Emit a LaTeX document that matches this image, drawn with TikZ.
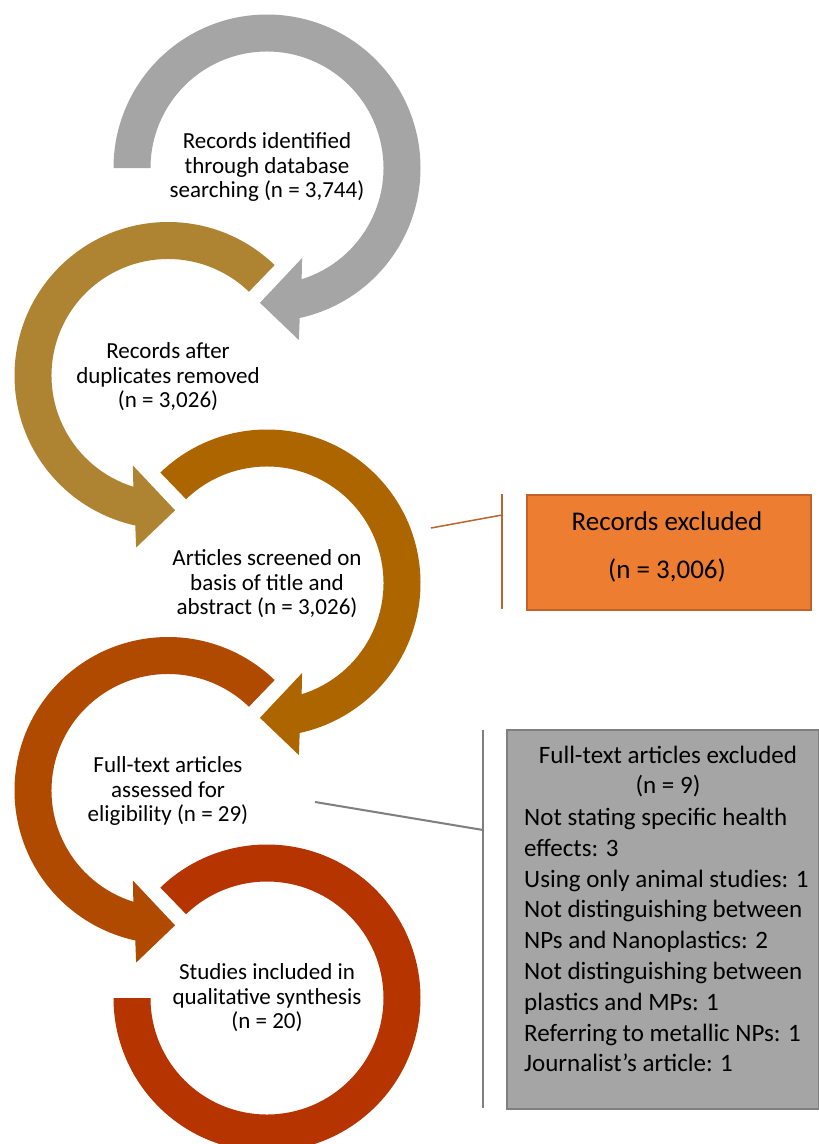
\documentclass[tikz,border=0pt]{standalone}
\usepackage{fontspec}
\setmainfont{Carlito}
\definecolor{cA}{HTML}{A5A5A5}
\definecolor{cB}{HTML}{AE8332}
\definecolor{cC}{HTML}{AD6500}
\definecolor{cD}{HTML}{B04A00}
\definecolor{cE}{HTML}{B53400}
\definecolor{orbox}{HTML}{ED7D31}
\definecolor{orline}{HTML}{B8652E}
\definecolor{orborder}{HTML}{C0622A}
\definecolor{gybox}{HTML}{A5A5A5}
\definecolor{gyline}{HTML}{7F7F7F}
% clockwise circular arrow: x, y, colour, start angle
\newcommand{\cwarrow}[4]{%
  \begin{scope}[shift={(#1,#2)}]
    \fill[#3] (#4:153.5pt) arc[start angle=#4, end angle=-77.7, radius=153.5pt]
      -- (-79.5:175pt) -- (-93:135pt) -- (-68.7:96.6pt) -- (-72.7:116.5pt)
      arc[start angle=-72.7, end angle=#4, radius=116.5pt] -- cycle;
  \end{scope}}
% counter-clockwise circular arrow
\newcommand{\ccwarrow}[4]{%
  \begin{scope}[shift={(#1,#2)}]
    \fill[#3] (#4:153.5pt) arc[start angle=#4, end angle=257.7, radius=153.5pt]
      -- (259.5:175pt) -- (273:135pt) -- (248.7:96.6pt) -- (252.7:116.5pt)
      arc[start angle=252.7, end angle=#4, radius=116.5pt] -- cycle;
  \end{scope}}
\begin{document}
\begin{tikzpicture}[x=1pt,y=1pt,
  ctext/.style={align=center, inner sep=0pt, font=\fontsize{23}{24.5}\selectfont},
  gtext/.style={inner sep=0pt, font=\fontsize{25}{30}\selectfont},
  otext/.style={inner sep=0pt, font=\fontsize{27}{30}\selectfont}]
\useasboundingbox (0,0) rectangle (819,-1144);
\fill[white] (0,0) rectangle (819,-1144);

% circular arrows
\cwarrow{267}{-168}{cA}{180}
\ccwarrow{168}{-375.5}{cB}{46}
\cwarrow{267}{-583}{cC}{134}
\ccwarrow{168}{-790.5}{cD}{46}
\begin{scope}[shift={(267,-998)}]
  \fill[cE] (134:153.5pt) arc[start angle=134, end angle=-180, radius=153.5pt]
    -- (180:116.5pt) arc[start angle=-180, end angle=134, radius=116.5pt] -- cycle;
\end{scope}

% circle texts
\node[ctext] (t1) at (267,-167) {Records identified\\through database\\searching (n = 3,744)};
\node[ctext] (t2) at (168,-377) {Records after\\duplicates removed\\(n = 3,026)};
\node[ctext] (t3) at (267,-584) {Articles screened on\\basis of title and\\abstract (n = 3,026)};
\node[ctext] (t4) at (168,-791) {Full-text articles\\assessed for\\eligibility (n = 29)};
\node[ctext] (t5) at (267,-998) {Studies included in\\qualitative synthesis\\(n = 20)};

% records excluded box
\node[draw=orborder, line width=1.5pt, fill=orbox, minimum width=284pt, minimum height=115pt, anchor=north west, inner sep=0pt] (rx) at (526,-494) {};
\node[otext, anchor=base] (rx1) at (667,-530) {Records excluded};
\node[otext, anchor=base] (rx2) at (667,-578) {(n = 3,006)};
\coordinate (oa) at (431,-528);
\coordinate (ob) at (502,-515);
\coordinate (otop) at (502,-494);
\coordinate (obot) at (502,-609);
\draw[orline, line width=1.5pt] (oa) -- (ob);
\draw[orline, line width=1.5pt] (otop) -- (obot);

% full-text excluded box
\node[draw=gyline, line width=2pt, fill=gybox, minimum width=312pt, minimum height=379pt, anchor=north west, inner sep=0pt] (fx) at (506,-729) {};
\node[gtext, anchor=base] (fh1) at (668,-763) {Full-text articles excluded};
\node[gtext, anchor=base] (fh2) at (668,-793.8) {(n = 9)};
\foreach \t [count=\i] in {Not stating specific health, effects: 3, Using only animal studies: 1, Not distinguishing between, NPs and Nanoplastics: 2, Not distinguishing between, plastics and MPs: 1, Referring to metallic NPs: 1, Journalist’s article: 1}
  \node[gtext, anchor=base west] (fl\i) at (524,{-794.6-30.8*\i}) {\t};
\coordinate (ga) at (315,-802);
\coordinate (gb) at (483,-830);
\coordinate (gtop) at (483,-730);
\coordinate (gbot) at (483,-1108);
\draw[gyline, line width=2pt] (ga) -- (gb);
\draw[gyline, line width=2pt] (gtop) -- (gbot);
\end{tikzpicture}
\end{document}
